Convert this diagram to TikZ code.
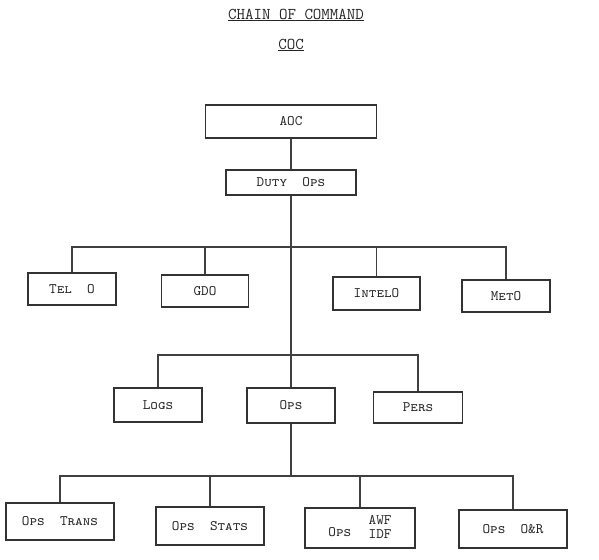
\documentclass[tikz,border=0pt]{standalone}
\begin{document}
\begin{tikzpicture}[x=1pt,y=-1pt,
  orgbox/.style={draw=black!80, line width=1.6pt, rectangle, inner sep=0pt,
    font=\fontsize{14.5}{16}\selectfont\ttfamily\scshape, text=black!85},
  link/.style={draw=black!75, line width=1.5pt},
  ttl/.style={font=\fontsize{16.5}{18}\selectfont\ttfamily, text=black!85}]
\useasboundingbox (0,0) rectangle (599,559);
% titles
\node[ttl] (title) at (296,15) {\underline{CHAIN OF COMMAND}};
\node[ttl] (coc) at (291,45) {\underline{COC}};
% boxes
\node[orgbox, minimum width=171pt, minimum height=33pt] (aoc) at (291,121.5) {AOC};
\node[orgbox, minimum width=130pt, minimum height=25pt] (duty) at (291,182.5) {Duty\ \ Ops};
\node[orgbox, minimum width=88pt, minimum height=32pt] (telo) at (72,289) {Tel\ \ O};
\node[orgbox, minimum width=87pt, minimum height=32pt] (gdo) at (205,291) {GDO};
\node[orgbox, minimum width=87pt, minimum height=33pt] (intel) at (376.5,293.5) {IntelO};
\node[orgbox, minimum width=88pt, minimum height=32pt] (meto) at (506,296) {MetO};
\node[orgbox, minimum width=88pt, minimum height=34pt] (logs) at (158,405) {Logs};
\node[orgbox, minimum width=88pt, minimum height=35pt] (ops) at (291,405.5) {Ops};
\node[orgbox, minimum width=89pt, minimum height=31pt] (pers) at (418,407.5) {Pers};
\node[orgbox, minimum width=108pt, minimum height=37pt] (trans) at (60,521.5) {Ops\ \ Trans};
\node[orgbox, minimum width=108pt, minimum height=38pt] (stats) at (210,526) {Ops\ \ Stats};
\node[orgbox, minimum width=110pt, minimum height=40pt] (awf) at (360,528)
  {\begin{tabular}{@{}c@{\hspace{1.2em}}c@{}}\raisebox{-0.7ex}{Ops} & \begin{tabular}[c]{@{}c@{}}AWF\\[-2pt]IDF\end{tabular}\end{tabular}};
\node[orgbox, minimum width=108pt, minimum height=38pt] (oandr) at (513,529) {Ops\ \ O\&R};
% bus levels
\coordinate (b1) at (0,247);
\coordinate (b2) at (0,355);
\coordinate (b3) at (0,476);
% connectors
\draw[link] (aoc.south) -- (duty.north);
\draw[link] (duty.south) -- (ops.north);
\draw[link] (telo.north) |- (meto.north |- b1) -- (meto.north);
\draw[link] (gdo.north) -- (gdo.north |- b1);
\draw[link] (intel.north) -- (intel.north |- b1);
\draw[link] (logs.north) |- (pers.north |- b2) -- (pers.north);
\draw[link] (ops.south) -- (ops.south |- b3);
\draw[link] (trans.north) |- (oandr.north |- b3) -- (oandr.north);
\draw[link] (stats.north) -- (stats.north |- b3);
\draw[link] (awf.north) -- (awf.north |- b3);
\end{tikzpicture}
\end{document}
